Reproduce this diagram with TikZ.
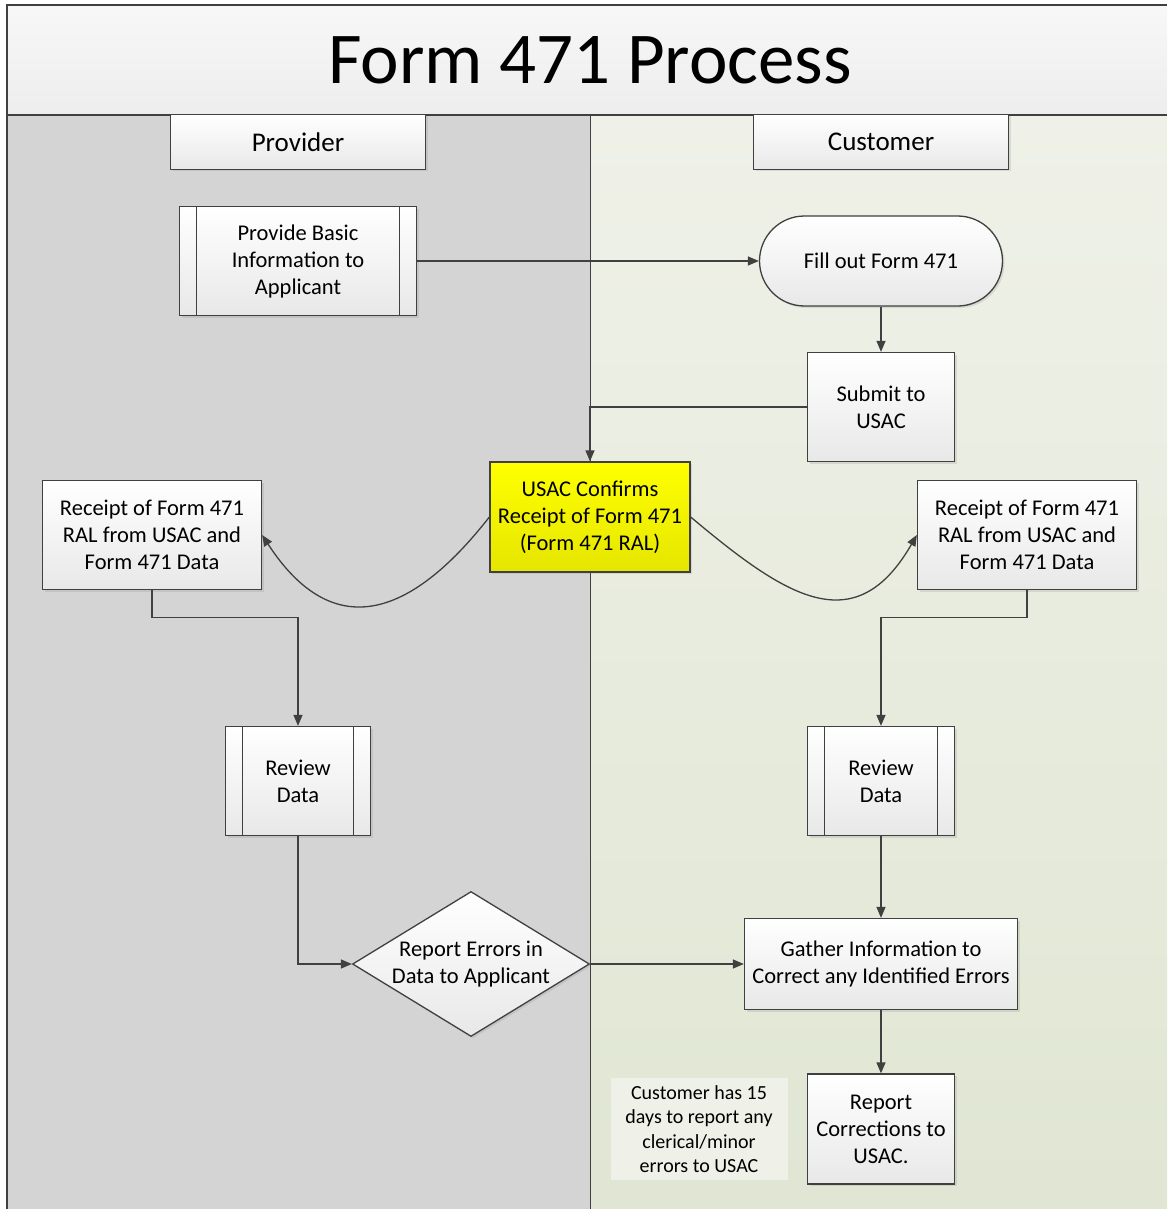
\documentclass[tikz,border=0pt]{standalone}
\usepackage{fontspec}
\setmainfont{Carlito}
\usetikzlibrary{shapes.geometric,arrows.meta,shadows}

\definecolor{provlane}{RGB}{212,212,212}
\definecolor{custtop}{RGB}{239,241,232}
\definecolor{custbot}{RGB}{224,230,211}
\definecolor{linegray}{RGB}{64,64,64}

\begin{document}
\begin{tikzpicture}
  [x=1pt,y=1pt,
   line/.style={draw=linegray,line width=1.3pt},
   arr/.style={line,-{Triangle[length=11pt,width=9pt]}},
   box/.style={rectangle,line,top color=white,bottom color=black!9,
     drop shadow={opacity=0.2,shadow xshift=2pt,shadow yshift=-2pt},
     align=center,inner sep=2pt,font=\fontsize{22.5}{27}\selectfont},
   predef/.style={box,path picture={
     \draw[line] ([xshift=17pt]path picture bounding box.north west)
       -- ([xshift=17pt]path picture bounding box.south west);
     \draw[line] ([xshift=-17pt]path picture bounding box.north east)
       -- ([xshift=-17pt]path picture bounding box.south east);}},
   lanehead/.style={box,minimum width=255pt,minimum height=55pt,
     font=\fontsize{27}{30}\selectfont}]

  % frame and lanes
  \useasboundingbox (0,0) rectangle (1167,-1209);
  \fill[provlane] (7,-115) rectangle (590,-1209);
  \shade[top color=custtop,bottom color=custbot] (590,-115) rectangle (1167,-1209);
  \shade[top color=black!3,bottom color=black!7] (7,-5) rectangle (1167,-115);
  \draw[line] (7,-1209) -- (7,-5) -- (1167,-5);
  \draw[line] (7,-115) -- (1167,-115);
  \draw[draw=linegray,line width=1pt] (590,-115) -- (590,-1209);
  \node[font=\fontsize{73}{80}\selectfont] (title) at (590,-60) {Form 471 Process};

  \node[lanehead] (prov) at (298,-142) {Provider};
  \node[lanehead] (cust) at (881,-142) {Customer};

  % provider lane
  \node[predef,minimum width=237pt,minimum height=109pt] (basic) at (298,-261)
    {Provide Basic\\Information to\\Applicant};
  \node[box,minimum width=219pt,minimum height=109pt] (rcptl) at (152,-535)
    {Receipt of Form 471\\RAL from USAC and\\Form 471 Data};
  \node[predef,minimum width=145pt,minimum height=109pt] (revl) at (298,-781)
    {Review\\Data};
  \node[box,diamond,aspect=1.63,inner sep=-8pt,minimum width=237pt,
    minimum height=145pt] (errs) at (471,-964)
    {Report Errors in\\Data to Applicant};

  % centre
  \node[box,top color=yellow,bottom color=yellow!90!black,
    minimum width=200pt,minimum height=110pt] (usac) at (590,-517)
    {USAC Confirms\\Receipt of Form 471\\(Form 471 RAL)};

  % customer lane
  \node[box,rounded corners=45pt,minimum width=243pt,minimum height=90pt]
    (fill) at (881,-261) {Fill out Form 471};
  \node[box,minimum width=147pt,minimum height=109pt] (submit) at (881,-407)
    {Submit to\\USAC};
  \node[box,minimum width=219pt,minimum height=109pt] (rcptr) at (1027,-535)
    {Receipt of Form 471\\RAL from USAC and\\Form 471 Data};
  \node[predef,minimum width=147pt,minimum height=109pt] (revr) at (881,-781)
    {Review\\Data};
  \node[box,minimum width=273pt,minimum height=91pt] (gather) at (881,-964)
    {Gather Information to\\Correct any Identified Errors};
  \node[box,minimum width=147pt,minimum height=110pt] (corr) at (881,-1129)
    {Report\\Corrections to\\USAC.};
  \node[fill=custtop,align=center,minimum width=177pt,minimum height=102pt,
    font=\fontsize{20}{24.5}\selectfont] (note) at (699,-1129)
    {Customer has 15\\days to report any\\clerical/minor\\errors to USAC};

  % connectors
  \draw[arr] (basic) -- (fill);
  \draw[arr] (fill) -- (submit);
  \draw[arr] (submit.west) -| (usac.north);
  \draw[arr] (usac.west) to[out=232,in=-57,looseness=1.45] (rcptl.east);
  \draw[arr] (usac.east) to[out=-40,in=240,looseness=1.4] (rcptr.west);
  \draw[arr] (rcptl.south) -- ++(0,-27) -| (revl.north);
  \draw[arr] (rcptr.south) -- ++(0,-27) -| (revr.north);
  \draw[arr] (revl.south) |- (errs.west);
  \draw[arr] (revr) -- (gather);
  \draw[arr] (errs.east) -- (gather.west);
  \draw[arr] (gather) -- (corr);

\end{tikzpicture}
\end{document}
